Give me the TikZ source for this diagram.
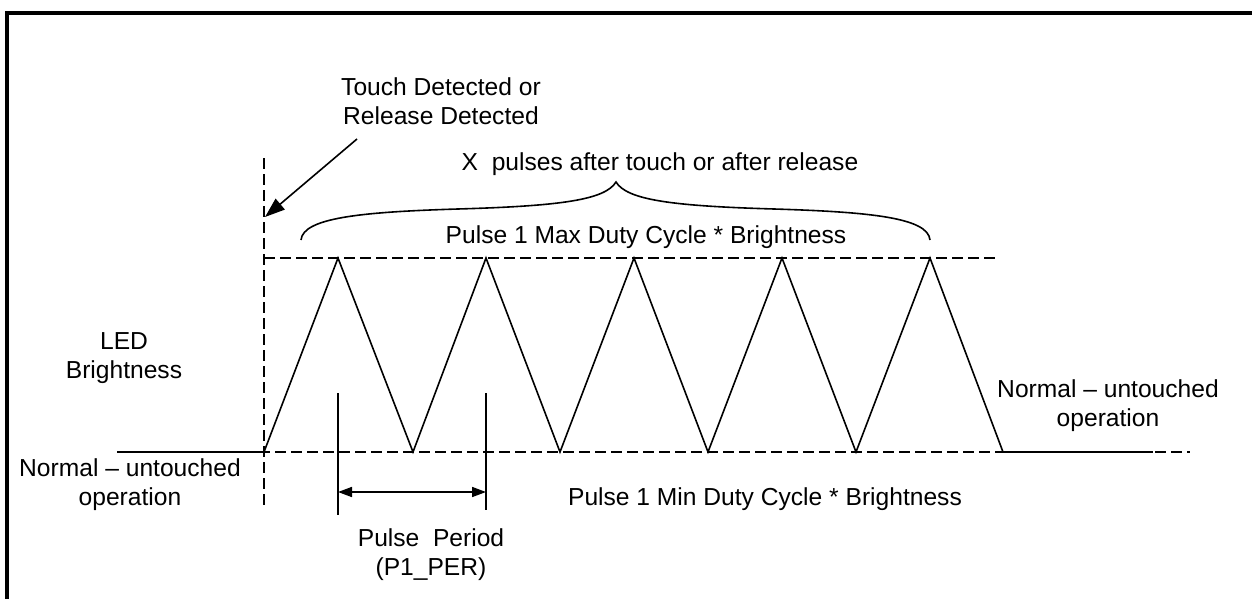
\documentclass[tikz,border=0pt]{standalone}
\usepackage{fontspec}
\setmainfont{Liberation Sans}
\usetikzlibrary{arrows.meta}
\begin{document}
\begin{tikzpicture}[x=0.5pt,y=-0.5pt,
  lbl/.style={font=\fontsize{12.3}{14.75}\selectfont, inner sep=0pt, align=center, anchor=north},
  dashln/.style={line width=1.2pt, dash pattern=on 5.5pt off 2.5pt},
  wave/.style={line width=0.8pt},
  solidln/.style={line width=0.8pt},
  frameln/.style={line width=2pt},
  bigtip/.style={-{Triangle[length=10pt,width=7pt]}, line width=0.8pt},
  pertip/.style={{Triangle[length=7pt,width=5pt]}-{Triangle[length=7pt,width=5pt]}, line width=0.8pt}]
\useasboundingbox (0,0) rectangle (1252,599);
% frame
\draw[frameln] (7,620) -- (7,13) -- (1270,13);
% coordinates
\coordinate (vtop) at (264,158);
\coordinate (vbot) at (264,508);
\coordinate (maxL) at (264,258);
\coordinate (maxR) at (997,258);
\coordinate (minL) at (227,452);
\coordinate (minR) at (1190,452);
\coordinate (baseL) at (117,452);
\coordinate (baseR) at (1153,452);
\coordinate (w0) at (264,452);
\coordinate (w1) at (338,258);
\coordinate (w2) at (413,452);
\coordinate (w3) at (486,258);
\coordinate (w4) at (560,452);
\coordinate (w5) at (634,258);
\coordinate (w6) at (708,452);
\coordinate (w7) at (782,258);
\coordinate (w8) at (856,452);
\coordinate (w9) at (930,258);
\coordinate (w10) at (1003,452);
% dashed guide lines
\draw[dashln] (vtop) -- (vbot);
\draw[dashln] (maxL) -- (maxR);
\draw[dashln] (minL) -- (minR);
% normal level solid lines
\draw[solidln] (baseL) -- (w0);
\draw[solidln] (w10) -- (baseR);
% waveform
\draw[wave] (w0) -- (w1) -- (w2) -- (w3) -- (w4) -- (w5) -- (w6) -- (w7) -- (w8) -- (w9) -- (w10);
% pulse period markers
\coordinate (pa1) at (338,393);
\coordinate (pa2) at (338,515);
\coordinate (pb1) at (486,393);
\coordinate (pb2) at (486,510);
\draw[solidln] (pa1) -- (pa2);
\draw[solidln] (pb1) -- (pb2);
\coordinate (arL) at (338,492);
\coordinate (arR) at (486,492);
\draw[pertip] (arL) -- (arR);
% touch arrow
\coordinate (tA) at (357,139);
\coordinate (tB) at (265,217);
\draw[bigtip] (tA) -- (tB);
% brace
\coordinate (bL) at (301,240);
\coordinate (bT) at (616,182);
\coordinate (bR) at (930,240);
\draw[line width=0.8pt] (bL) .. controls (303,218) and (360,212) .. (458,209)
  .. controls (560,206) and (605,200) .. (bT)
  .. controls (627,200) and (672,206) .. (774,209)
  .. controls (872,212) and (928,218) .. (bR);
% labels
\node[lbl] (touch) at (441,77) {Touch Detected or\\Release Detected};
\node[lbl] (xpulses) at (660,152) {X\ \ pulses after touch or after release};
\node[lbl] (maxlbl) at (646,225) {Pulse 1 Max Duty Cycle * Brightness};
\node[lbl] (led) at (124,332) {LED\\Brightness};
\node[lbl] (normL) at (130,458) {Normal – untouched\\operation};
\node[lbl] (normR) at (1108,379) {Normal – untouched\\operation};
\node[lbl] (minlbl) at (765,487) {Pulse 1 Min Duty Cycle * Brightness};
\node[lbl] (period) at (431,528) {Pulse\ \ Period\\(P1\_PER)};
\end{tikzpicture}
\end{document}
